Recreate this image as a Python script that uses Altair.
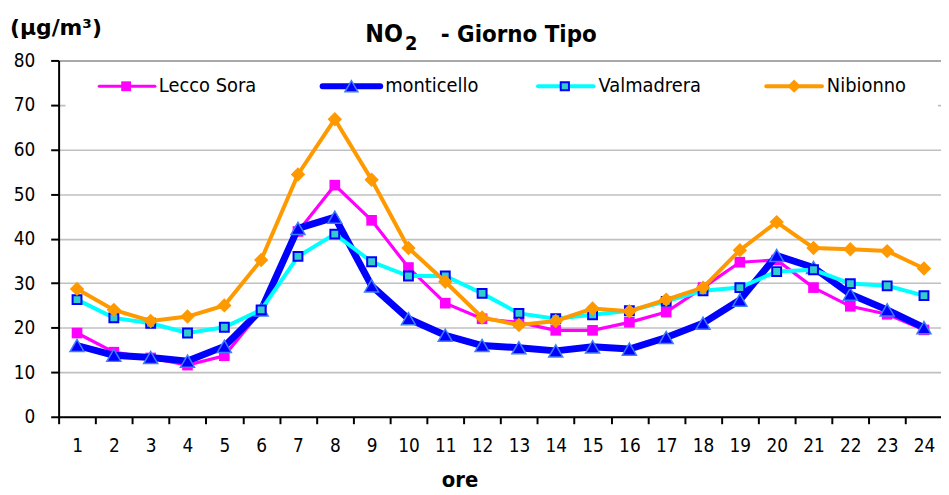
import altair as alt
import pandas as pd

# ---- data ----
hours = list(range(1, 25))
series_names = ["Lecco Sora", "monticello", "Valmadrera", "Nibionno"]
lecco_sora = [18.8, 14.5, 13.2, 11.6, 13.7, 23.8, 41.6, 52.0, 44.1, 33.5, 25.5, 22.0,
              21.2, 19.4, 19.4, 21.2, 23.5, 29.0, 34.7, 35.2, 29.0, 24.8, 23.0, 19.5]
monticello = [16.0, 13.8, 13.3, 12.5, 15.8, 24.0, 42.3, 44.8, 29.4, 22.0, 18.3, 16.0,
              15.5, 14.8, 15.7, 15.2, 17.8, 21.0, 26.2, 36.2, 33.5, 27.5, 24.0, 20.0]
valmadrera = [26.3, 22.2, 21.0, 18.8, 20.1, 24.0, 36.0, 41.0, 34.8, 31.6, 31.6, 27.7,
              23.2, 22.0, 22.9, 23.8, 25.9, 28.3, 29.0, 32.6, 33.0, 29.9, 29.4, 27.2]
nibionno = [28.7, 24.0, 21.5, 22.5, 25.0, 35.2, 54.4, 66.8, 53.2, 37.9, 30.3, 22.3,
            20.6, 21.5, 24.3, 23.7, 26.3, 29.0, 37.4, 43.7, 37.9, 37.6, 37.2, 33.3]
y_ticks = [0, 10, 20, 30, 40, 50, 60, 70, 80]

values_by_series = [lecco_sora, monticello, valmadrera, nibionno]
rows = []
for name, vals in zip(series_names, values_by_series):
    for h, v in zip(hours, vals):
        rows.append({"series": name, "hour": h, "value": v})
df = pd.DataFrame(rows)

# ---- styles / layout ----
W, H = 889, 359
BAND = 37.1
FONT = "DejaVu Sans Condensed, DejaVu Sans, sans-serif"
FONT_B = "DejaVu Sans, sans-serif"

styles = {
    "Lecco Sora": dict(line="#FF00FF", lw=3.2, shape="square", fill="#FF00FF",
                       stroke="#FF00FF", sw=0, size=115),
    "monticello": dict(line="#0000FF", lw=7, shape="triangle-up", fill="#0000FF",
                       stroke="#3D7FFF", sw=1.5, size=200),
    "Valmadrera": dict(line="#00FFFF", lw=4, shape="square", fill="#33CCCC",
                       stroke="#0000FF", sw=2, size=80),
    "Nibionno": dict(line="#FF9900", lw=4, shape="diamond", fill="#FF9900",
                     stroke="#FF9900", sw=0, size=210),
}

x_enc = alt.X("hour:Q",
              scale=alt.Scale(domain=[0.5, 0.5 + W / BAND], nice=False, zero=False),
              axis=alt.Axis(values=hours, title="ore", grid=False,
                            tickOffset=-BAND / 2, labelOffset=BAND / 2,
                            tickSize=7, tickWidth=2, tickColor="black",
                            domainColor="black", domainWidth=2,
                            labelFont=FONT, labelFontSize=19, labelColor="black",
                            labelPadding=13, labelFlush=False,
                            titleFont=FONT, titleFontSize=22, titleFontWeight="bold",
                            titleColor="black", titleX=404, titleY=70,
                            titleBaseline="alphabetic", titleAlign="center"))
y_enc = alt.Y("value:Q",
              scale=alt.Scale(domain=[0, 80], nice=False),
              axis=alt.Axis(values=y_ticks, title=None, grid=True,
                            gridColor={"condition": {"test": "datum.value == 80",
                                                     "value": "#8C8C8C"},
                                       "value": "#C0C0C0"},
                            gridWidth=1.6,
                            tickSize=8, tickWidth=2, tickColor="black",
                            domainColor="black", domainWidth=2,
                            labelFont=FONT, labelFontSize=19, labelColor="black",
                            labelPadding=16))

base = alt.Chart(df)
layers = []
for name in series_names:
    s = styles[name]
    f = base.transform_filter(alt.datum.series == name)
    layers.append(f.mark_line(color=s["line"], strokeWidth=s["lw"]).encode(x=x_enc, y=y_enc))
    layers.append(f.mark_point(shape=s["shape"], filled=True, fill=s["fill"],
                               stroke=s["stroke"], strokeWidth=s["sw"], size=s["size"],
                               opacity=1).encode(x=x_enc, y=y_enc))

# ---- legend (layout in plot pixels) ----
one = pd.DataFrame({"k": [0]})
LEG_Y = 26
legend_pos = {  # line start, line end, marker x, text x
    "Lecco Sora": (41, 97, 68, 101),
    "monticello": (266, 324, 295, 329),
    "Valmadrera": (483, 539, 510, 544),
    "Nibionno": (713, 769, 741, 774),
}
layers.append(alt.Chart(one).mark_rect(fill="white").encode(
    x=alt.value(7), x2=alt.value(886), y=alt.value(4), y2=alt.value(49)))
for name in series_names:
    s = styles[name]
    x0, x1, xm, xt = legend_pos[name]
    c = alt.Chart(one)
    layers.append(c.mark_rule(color=s["line"], strokeWidth=s["lw"] if s["lw"] < 6 else 6,
                              strokeCap="round").encode(
        x=alt.value(x0), x2=alt.value(x1), y=alt.value(LEG_Y)))
    layers.append(c.mark_point(shape=s["shape"], filled=True, fill=s["fill"],
                               stroke=s["stroke"], strokeWidth=s["sw"],
                               size=s["size"] * 0.85, opacity=1).encode(
        x=alt.value(xm), y=alt.value(LEG_Y)))
    layers.append(c.mark_text(text=name, font=FONT, fontSize=20, color="black",
                              align="left", baseline="middle").encode(
        x=alt.value(xt), y=alt.value(LEG_Y)))

# ---- titles ----
t = alt.Chart(one)
layers.append(t.mark_text(text="NO", font=FONT, fontSize=25, fontWeight="bold",
                          color="black", align="left", baseline="alphabetic").encode(
    x=alt.value(309), y=alt.value(-19)))
layers.append(t.mark_text(text="2", font=FONT, fontSize=20, fontWeight="bold",
                          color="black", align="left", baseline="alphabetic").encode(
    x=alt.value(349), y=alt.value(-11)))
layers.append(t.mark_text(text="- Giorno Tipo", font=FONT, fontSize=24, fontWeight="bold",
                          color="black", align="left", baseline="alphabetic").encode(
    x=alt.value(385), y=alt.value(-19)))
layers.append(t.mark_text(text="(μg/m³)", font=FONT_B, fontSize=22, fontWeight="bold",
                          color="black", align="left", baseline="alphabetic").encode(
    x=alt.value(-49), y=alt.value(-26)))

chart = alt.layer(*layers).properties(
    width=W, height=H, autosize="none",
    padding={"left": 51, "top": 51, "right": 0, "bottom": 77},
    background="white",
).configure_view(stroke=None)

chart.save("out.html", embed_options={"renderer": "svg", "actions": False})
